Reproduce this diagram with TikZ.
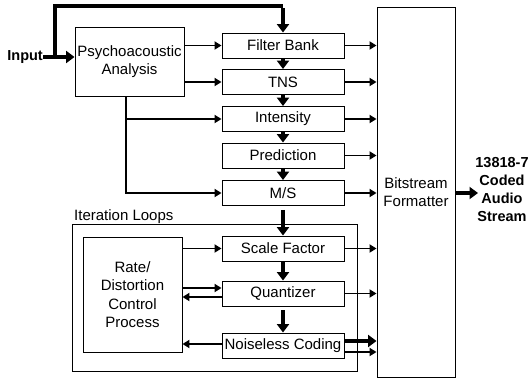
\documentclass[tikz,border=0pt]{standalone}
\usepackage{fontspec}
\setmainfont{Liberation Sans}
\usetikzlibrary{arrows.meta}
\begin{document}
\begin{tikzpicture}[x=1pt,y=-1pt,
  font=\fontsize{15}{18.5}\selectfont,
  blk/.style={draw,line width=0.9pt,minimum width=122pt,minimum height=25pt,inner sep=0pt,anchor=center},
  box/.style={draw,line width=0.9pt,inner sep=0pt,align=center},
  thin/.style={line width=1.8pt,-{Triangle[length=7pt,width=8pt]}},
  thick/.style={line width=4pt,-{Triangle[length=8.5pt,width=12pt]}},
  thickline/.style={line width=4pt}]
\useasboundingbox (0,0) rectangle (528,378);
% boxes
\node[box,minimum width=109pt,minimum height=69pt] (psy) at (129.5,61.5) {Psychoacoustic\\Analysis};
\node[blk] (fb) at (283,45.5) {Filter Bank};
\node[blk] (tns) at (283,82) {TNS};
\node[blk] (int) at (283,119) {Intensity};
\node[blk] (pre) at (283,155.5) {Prediction};
\node[blk] (ms) at (283,193) {M/S};
\node[blk] (sf) at (283,248.5) {Scale Factor};
\node[blk] (qu) at (283,293.5) {Quantizer};
\node[blk] (nc) at (283,345.5) {Noiseless Coding};
\node[box,minimum width=78pt,minimum height=370pt] (bs) at (416,192) {Bitstream\\Formatter};
\node[draw,line width=0.9pt,minimum width=285pt,minimum height=147pt,inner sep=0pt] (il) at (214.5,297.5) {};
\node[anchor=base west,inner sep=0pt] (illab) at (74,220) {Iteration Loops};
\node[box,minimum width=99pt,minimum height=115pt] (rd) at (132.5,294.5) {Rate/\\Distortion\\Control\\Process};
\node[anchor=east,inner sep=0pt,font=\fontsize{14.5}{18}\selectfont\bfseries] (in) at (43,57) {Input};
\node[align=center,inner sep=0pt,font=\fontsize{14.5}{18}\selectfont\bfseries] (out) at (502,190) {13818-7\\Coded\\Audio\\Stream};
\coordinate (c1) at (55,57);
\coordinate (c2) at (55,6);
\coordinate (c3) at (283,6);
% input
\draw[thick] (in.east) -- (psy.west |- c1);
\draw[thickline,line join=miter] (c1) -- (c2) -- (c3);
\draw[thick] ([yshift=-2pt]c3) -- (fb.north);
% psycho outputs
\draw[thin] (psy.east |- fb.west) -- (fb.west);
\draw[thin] (psy.east |- tns.west) -- (tns.west);
\draw[line width=1.8pt] (126,0 |- psy.south) -- (126,0 |- ms.west);
\draw[thin] (126,0 |- int.west) -- (int.west);
\draw[thin] (125.1,0 |- ms.west) -- (ms.west);
% chain
\draw[thick] (fb.south) -- (tns.north);
\draw[thick] (tns.south) -- (int.north);
\draw[thick] (int.south) -- (pre.north);
\draw[thick] (pre.south) -- (ms.north);
\draw[thick] ([yshift=-4pt]ms.south) -- (sf.north);
\draw[thick] (sf.south) -- (qu.north);
\draw[thick] ([yshift=-4pt]qu.south) -- (nc.north);
% to bitstream
\foreach \n in {fb,tns,int,pre,ms,sf,qu}
  \draw[thin] (\n.east) -- (\n.east -| bs.west);
\draw[thin] ([yshift=-6.5pt]nc.east) -- ([yshift=-6.5pt]nc.east -| bs.west);
\draw[thick] ([yshift=4.5pt]nc.east) -- ([yshift=4.5pt]nc.east -| bs.west);
% output
\draw[thick] (bs.east |- 0,193) -- (478,193);
% rate loops
\draw[thin] (rd.east |- sf.west) -- (sf.west);
\draw[thin] (rd.east |- 0,288) -- (qu.west |- 0,288);
\draw[thin] (qu.west |- 0,297) -- (rd.east |- 0,297);
\draw[thin] (nc.west |- 0,344) -- (rd.east |- 0,344);
\end{tikzpicture}
\end{document}
